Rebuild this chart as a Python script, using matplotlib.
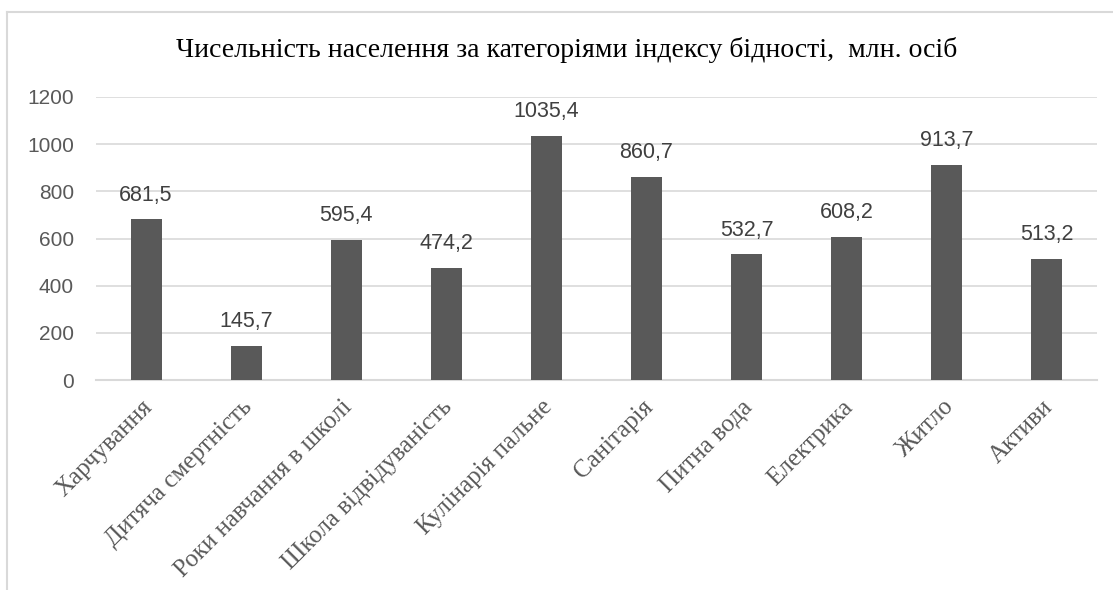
import matplotlib
matplotlib.use('Agg')
import matplotlib.pyplot as plt
from matplotlib.lines import Line2D
from matplotlib.transforms import ScaledTranslation
import numpy as np

categories = ['Харчування', 'Дитяча смертність', 'Роки навчання в школі',
              'Школа відвідуваність', 'Кулінарія пальне', 'Санітарія',
              'Питна вода', 'Електрика', 'Житло', 'Активи']
values = [681.5, 145.7, 595.4, 474.2, 1035.4, 860.7, 532.7, 608.2, 913.7, 513.2]
yticks = [0, 200, 400, 600, 800, 1000, 1200]
title = 'Чисельність населення за категоріями індексу бідності,  млн. осіб'

W, H = 1113, 590
fig = plt.figure(figsize=(W / 100, H / 100), dpi=100)
ax = fig.add_axes([96 / W, 1 - 380 / H, (1097 - 96) / W, (380 - 97) / H])

x = np.arange(len(categories))
bars = ax.bar(x, values, width=0.31, color='#595959', zorder=3)

ax.set_xlim(-0.5, len(categories) - 0.5)
ax.set_ylim(0, 1200)
ax.set_yticks(yticks)
ax.set_yticklabels([str(t) for t in yticks], fontfamily='Liberation Sans',
                   fontsize=15, color='#595959')
ax.yaxis.grid(True, color='#d9d9d9', linewidth=1.2, zorder=0)
ax.tick_params(axis='y', length=0, pad=16)
ax.tick_params(axis='x', length=0, pad=8)

ax.set_xticks(x)
ax.set_xticklabels(categories, rotation=45, ha='right', rotation_mode='anchor',
                   fontfamily='Liberation Serif', fontsize=18, color='#595959')
shift = ScaledTranslation(-5 / 100, -5 / 100, fig.dpi_scale_trans)
for lab in ax.get_xticklabels():
    lab.set_transform(lab.get_transform() + shift)

for s in ['top', 'right', 'left']:
    ax.spines[s].set_visible(False)
ax.spines['bottom'].set_color('#d9d9d9')
ax.spines['bottom'].set_linewidth(1.5)

for b, v in zip(bars, values):
    ax.annotate(f'{v:.1f}'.replace('.', ','), (b.get_x() + b.get_width() / 2, v),
                xytext=(0, 13.5), textcoords='offset points', ha='center', va='baseline',
                fontfamily='Liberation Sans', fontsize=15.5, color='#404040')

fig.text(567 / W, 1 - 50 / H, title, ha='center', va='center',
         fontfamily='Liberation Serif', fontsize=20, color='black')

# chart frame
fig.add_artist(Line2D([7 / W, 1], [1 - 12 / H, 1 - 12 / H], color='#d9d9d9',
                      linewidth=1.5, transform=fig.transFigure))
fig.add_artist(Line2D([7 / W, 7 / W], [0, 1 - 12 / H], color='#d9d9d9',
                      linewidth=1.5, transform=fig.transFigure))

fig.savefig('out.png', dpi=100)
